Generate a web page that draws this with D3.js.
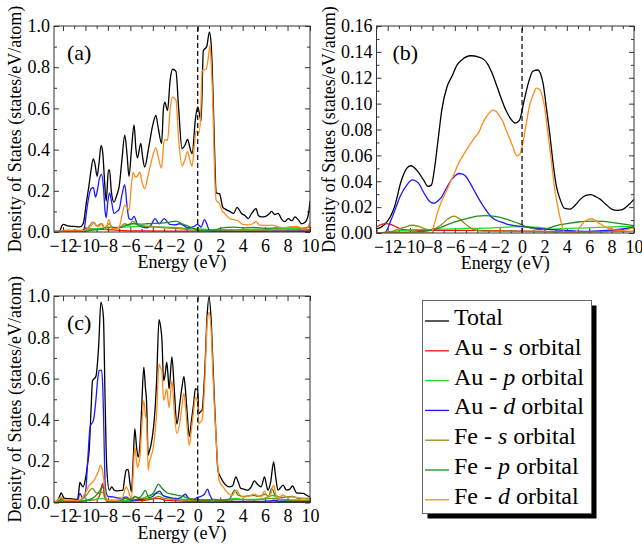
<!DOCTYPE html>
<html><head><meta charset="utf-8">
<script src="https://cdn.jsdelivr.net/npm/d3@7"></script>
<style>
html,body{margin:0;padding:0;background:#fff;}
svg{display:block;font-family:"Liberation Serif","Times New Roman",serif;}
</style></head>
<body>
<svg id="c" width="642" height="547"></svg>
<script>
// ---------------- DATA ----------------
const seriesNames = ["Total","Au - s orbital","Au - p orbital","Au - d orbital","Fe - s orbital","Fe - p orbital","Fe - d orbital"];
const seriesColors = ["#000000","#ee1111","#22dd22","#1a1aff","#8c8c1a","#1e8c1e","#ff8c1a"];
const xTicks = [-12,-10,-8,-6,-4,-2,0,2,4,6,8,10];

// Panel (a)
const a_total = [[-12.8,0.003],[-12.3,0.004],[-12.1,0.03],[-11.95,0.037],[-11.6,0.03],[-11,0.027],[-10.5,0.025],[-10.2,0.04],[-9.9,0.15],[-9.7,0.22],[-9.5,0.3],[-9.3,0.355],[-9.15,0.33],[-8.96,0.27],[-8.8,0.33],[-8.6,0.42],[-8.45,0.38],[-8.3,0.25],[-8.15,0.15],[-7.95,0.3],[-7.85,0.3],[-7.7,0.2],[-7.46,0.145],[-7.2,0.18],[-7.0,0.22],[-6.75,0.35],[-6.5,0.47],[-6.3,0.38],[-6.12,0.27],[-5.9,0.4],[-5.67,0.52],[-5.5,0.4],[-5.37,0.36],[-5.07,0.43],[-4.9,0.36],[-4.72,0.315],[-4.4,0.4],[-4.0,0.52],[-3.73,0.566],[-3.5,0.5],[-3.22,0.43],[-3.05,0.6],[-2.93,0.63],[-2.69,0.59],[-2.45,0.74],[-2.24,0.79],[-1.94,0.78],[-1.7,0.6],[-1.4,0.405],[-1.15,0.42],[-0.9,0.45],[-0.7,0.41],[-0.5,0.38],[-0.2,0.55],[0,0.607],[0.3,0.54],[0.5,0.88],[0.8,0.9],[1.04,0.97],[1.2,0.91],[1.4,0.6],[1.55,0.3],[1.64,0.19],[1.94,0.186],[2.24,0.12],[2.5,0.11],[2.84,0.10],[3.2,0.09],[3.5,0.12],[3.9,0.09],[4.2,0.08],[4.5,0.065],[4.8,0.09],[5.2,0.113],[5.4,0.08],[5.67,0.073],[6.0,0.075],[6.4,0.09],[6.57,0.10],[6.85,0.085],[7.16,0.09],[7.5,0.06],[7.76,0.05],[8.06,0.065],[8.4,0.055],[8.66,0.073],[8.95,0.06],[9.25,0.04],[9.5,0.045],[9.7,0.057],[9.9,0.1],[10,0.15]];
const a_aus = [[-12.8,0],[-12.2,0.003],[-11.8,0.008],[-10.3,0.008],[-10,0.015],[-9,0.015],[-8,0.012],[-7,0.008],[-5,0.005],[-2,0.004],[0,0.004],[3,0.004],[6,0.004],[10,0.005]];
const a_aup = [[-12.8,0],[-10.3,0.002],[-9.8,0.012],[-9,0.016],[-8,0.02],[-7,0.022],[-6,0.025],[-5,0.027],[-4,0.025],[-3,0.024],[-2,0.022],[-1,0.018],[0,0.016],[1,0.012],[2,0.011],[3,0.01],[4,0.012],[5,0.014],[6,0.013],[7,0.015],[8,0.016],[9,0.018],[10,0.022]];
const a_aud = [[-12.8,0],[-10.3,0.002],[-10.1,0.02],[-9.9,0.1],[-9.7,0.17],[-9.5,0.21],[-9.3,0.215],[-9.1,0.17],[-8.95,0.2],[-8.75,0.26],[-8.57,0.28],[-8.4,0.22],[-8.25,0.1],[-8.15,0.07],[-8.0,0.15],[-7.85,0.19],[-7.65,0.14],[-7.46,0.09],[-7.2,0.1],[-7.0,0.11],[-6.75,0.18],[-6.5,0.23],[-6.3,0.13],[-6.12,0.065],[-5.9,0.06],[-5.67,0.076],[-5.4,0.04],[-5.2,0.03],[-4.6,0.02],[-4.2,0.03],[-3.8,0.065],[-3.43,0.04],[-2.98,0.065],[-2.5,0.037],[-2.0,0.035],[-1.64,0.04],[-1.2,0.03],[-0.9,0.02],[-0.4,0.025],[0,0.037],[0.3,0.024],[0.6,0.06],[0.8,0.04],[1.04,0.008],[1.5,0.004],[3,0.004],[5,0.003],[7,0.005],[9,0.004],[10,0.003]];
const a_fes = [[-12.8,0],[-10.3,0.002],[-9.8,0.02],[-9.3,0.048],[-9.0,0.03],[-8.6,0.04],[-8.3,0.02],[-7.9,0.04],[-7.5,0.02],[-6.9,0.025],[-6.5,0.04],[-6.1,0.03],[-5.8,0.053],[-5.4,0.035],[-4.8,0.03],[-4,0.025],[-3,0.02],[-2,0.018],[-1,0.012],[0,0.008],[1,0.006],[2,0.01],[4,0.008],[6,0.009],[8,0.01],[10,0.012]];
const a_fep = [[-12.8,0],[-10.3,0.002],[-9.5,0.008],[-8.5,0.015],[-7.9,0.024],[-7,0.02],[-6.5,0.03],[-5.8,0.04],[-5,0.038],[-4.5,0.04],[-3.8,0.042],[-3,0.044],[-2.5,0.048],[-1.94,0.053],[-1.4,0.04],[-0.9,0.03],[-0.3,0.015],[0,0.01],[0.6,0.008],[1.0,0.006],[1.6,0.01],[2.2,0.02],[3.1,0.024],[4,0.02],[5,0.022],[6,0.018],[7,0.02],[8,0.022],[8.8,0.025],[9.4,0.015],[10,0.03]];
const a_fed = [[-12.8,0.0],[-12.0,0.005],[-10.5,0.005],[-10.0,0.01],[-9.5,0.03],[-9.2,0.044],[-8.9,0.025],[-8.5,0.04],[-8.2,0.01],[-7.9,0.06],[-7.7,0.02],[-7.4,0.015],[-7.0,0.024],[-6.75,0.08],[-6.5,0.13],[-6.3,0.12],[-6.12,0.105],[-5.95,0.2],[-5.76,0.29],[-5.6,0.27],[-5.46,0.267],[-5.16,0.29],[-4.95,0.24],[-4.72,0.21],[-4.4,0.28],[-4.0,0.37],[-3.73,0.41],[-3.5,0.36],[-3.22,0.31],[-3.05,0.42],[-2.93,0.45],[-2.69,0.445],[-2.45,0.6],[-2.24,0.655],[-1.94,0.64],[-1.7,0.45],[-1.4,0.32],[-1.15,0.35],[-0.9,0.39],[-0.7,0.35],[-0.5,0.32],[-0.3,0.42],[-0.15,0.49],[0.1,0.48],[0.25,0.55],[0.4,0.785],[0.75,0.79],[0.95,0.85],[1.1,0.906],[1.22,0.8],[1.34,0.64],[1.5,0.3],[1.64,0.154],[1.94,0.137],[2.2,0.1],[2.4,0.09],[2.84,0.065],[3.2,0.06],[3.5,0.057],[3.8,0.045],[4.0,0.037],[4.5,0.035],[4.9,0.04],[5.2,0.05],[5.5,0.035],[6.1,0.032],[6.6,0.033],[7.2,0.024],[7.7,0.02],[8.2,0.024],[8.8,0.027],[9.3,0.015],[9.7,0.016],[9.9,0.035],[10,0.05]];

// Panel (b)
const b_total = [[-13,0.003],[-12.3,0.0064],[-11.8,0.012],[-11.4,0.02],[-10.8,0.04],[-10.3,0.05],[-9.94,0.052],[-9.3,0.0475],[-8.8,0.041],[-8.4,0.036],[-8.1,0.037],[-7.8,0.051],[-7.5,0.072],[-7.17,0.095],[-6.7,0.113],[-6.27,0.121],[-5.8,0.13],[-5.36,0.134],[-4.6,0.137],[-3.86,0.136],[-3.4,0.134],[-3.1,0.131],[-2.7,0.124],[-2.35,0.116],[-1.9,0.105],[-1.45,0.095],[-1.0,0.088],[-0.6,0.085],[-0.24,0.087],[0.2,0.103],[0.6,0.117],[0.96,0.125],[1.4,0.126],[1.87,0.116],[2.2,0.095],[2.47,0.077],[2.8,0.052],[3.07,0.036],[3.4,0.026],[3.8,0.019],[4.3,0.0185],[4.8,0.022],[5.2,0.026],[5.7,0.029],[6.14,0.0296],[6.6,0.028],[7.0,0.026],[7.5,0.022],[8.0,0.0185],[8.5,0.0175],[8.95,0.018],[9.55,0.022],[10,0.026]];
const b_aus = [[-13,0.0046],[-12.6,0.0065],[-12.2,0.0072],[-11.7,0.0064],[-11.2,0.0045],[-10.8,0.003],[-9.8,0.0022],[-8,0.002],[-5,0.002],[-2,0.0018],[0,0.0015],[2,0.0012],[5,0.001],[7,0.0012],[8.5,0.002],[9.3,0.0033],[10,0.0044]];
const b_aup = [[-13,0],[-12,0.0005],[-10.8,0.0018],[-9.3,0.0026],[-7,0.003],[-5,0.0035],[-3.25,0.0038],[-1.5,0.0045],[0,0.005],[1.5,0.0044],[2.8,0.003],[4,0.0035],[5.8,0.004],[7.5,0.0045],[8.8,0.0049],[10,0.005]];
const b_aud = [[-13,0],[-12.3,0],[-11.7,0.010],[-11.3,0.019],[-10.9,0.028],[-10.3,0.037],[-9.8,0.041],[-9.3,0.039],[-8.7,0.03],[-8.2,0.024],[-7.9,0.023],[-7.5,0.025],[-7.17,0.028],[-6.8,0.034],[-6.4,0.040],[-6.0,0.044],[-5.66,0.046],[-5.3,0.0455],[-5.06,0.044],[-4.6,0.038],[-4.16,0.031],[-3.7,0.024],[-3.25,0.018],[-2.8,0.013],[-2.35,0.010],[-1.7,0.008],[-1.15,0.0064],[0.06,0.005],[1.57,0.0033],[2.77,0.0026],[4.3,0.0018],[5.8,0.0013],[7.3,0.0018],[8.8,0.003],[10,0.0046]];
const b_fes = [[-13,0],[-11.5,0.0015],[-10.5,0.0045],[-9.8,0.006],[-9.2,0.005],[-8.4,0.0026],[-8.0,0.0028],[-7.2,0.0065],[-6.6,0.011],[-6.1,0.013],[-5.6,0.011],[-5.0,0.0065],[-4.4,0.003],[-3.5,0.0015],[-2,0.0015],[0,0.0012],[2,0.001],[4,0.0008],[6,0.0008],[8,0.001],[10,0.0015]];
const b_fep = [[-13,0],[-11,0.0005],[-9,0.0012],[-8.1,0.002],[-7.2,0.0045],[-6.3,0.0077],[-5.5,0.0098],[-4.76,0.0115],[-4,0.013],[-3.25,0.0134],[-2.6,0.013],[-2.05,0.0123],[-1.4,0.0107],[-0.84,0.009],[-0.2,0.007],[0.36,0.005],[1.0,0.0035],[1.57,0.0026],[2.2,0.0032],[2.77,0.005],[3.5,0.0065],[4.3,0.0077],[5.0,0.0085],[5.8,0.009],[6.5,0.0092],[7.3,0.009],[8.0,0.0082],[8.8,0.0072],[9.4,0.0065],[10,0.0057]];
const b_fed = [[-13,0],[-8.1,0],[-7.8,0.008],[-7.47,0.018],[-7.0,0.028],[-6.57,0.036],[-6.1,0.045],[-5.66,0.054],[-5.2,0.061],[-4.76,0.067],[-4.3,0.073],[-3.86,0.078],[-3.5,0.085],[-3.25,0.089],[-2.9,0.093],[-2.65,0.095],[-2.3,0.094],[-2.05,0.091],[-1.7,0.086],[-1.45,0.08],[-1.1,0.073],[-0.84,0.067],[-0.45,0.0596],[-0.2,0.061],[0.06,0.069],[0.35,0.083],[0.66,0.098],[1.0,0.107],[1.27,0.112],[1.57,0.111],[1.8,0.106],[2.0,0.098],[2.3,0.078],[2.6,0.057],[2.9,0.035],[3.2,0.02],[3.5,0.008],[3.8,0],[4.7,0],[5.0,0.0026],[5.3,0.006],[5.6,0.009],[6.2,0.011],[6.8,0.008],[7.6,0.004],[8.8,0.002],[9.5,0.003],[10,0.004]];

// Panel (c)
const c_total = [[-12.8,0],[-12.5,0.008],[-12.3,0.03],[-12.16,0.047],[-11.95,0.025],[-11.8,0.02],[-11.2,0.018],[-10.7,0.015],[-10.6,0.05],[-10.5,0.097],[-10.35,0.085],[-10.2,0.076],[-9.97,0.124],[-9.8,0.19],[-9.67,0.25],[-9.5,0.45],[-9.37,0.59],[-9.07,0.61],[-8.83,0.75],[-8.62,0.97],[-8.4,0.9],[-8.25,0.5],[-8.1,0.165],[-7.87,0.06],[-7.66,0.076],[-7.45,0.06],[-7.27,0.056],[-6.9,0.058],[-6.67,0.06],[-6.5,0.12],[-6.37,0.156],[-6.2,0.16],[-6.05,0.1],[-5.9,0.052],[-5.75,0.2],[-5.6,0.358],[-5.45,0.27],[-5.3,0.22],[-5.16,0.27],[-5.0,0.45],[-4.8,0.656],[-4.65,0.55],[-4.56,0.495],[-4.41,0.23],[-4.3,0.25],[-4.17,0.277],[-3.93,0.366],[-3.8,0.45],[-3.66,0.59],[-3.45,0.885],[-3.3,0.85],[-3.2,0.8],[-3.03,0.59],[-2.9,0.62],[-2.76,0.68],[-2.65,0.62],[-2.55,0.55],[-2.3,0.705],[-2.1,0.56],[-1.86,0.38],[-1.56,0.495],[-1.4,0.56],[-1.23,0.61],[-1.1,0.55],[-0.96,0.45],[-0.75,0.32],[-0.55,0.4],[-0.36,0.48],[-0.21,0.55],[0,0.545],[0.09,0.43],[0.25,0.44],[0.39,0.447],[0.63,0.64],[0.84,0.906],[1.0,0.995],[1.2,0.88],[1.35,0.68],[1.5,0.48],[1.65,0.3],[1.8,0.156],[2.1,0.116],[2.4,0.09],[2.8,0.076],[3.1,0.08],[3.4,0.124],[3.6,0.1],[3.84,0.068],[4.1,0.065],[4.44,0.06],[4.75,0.075],[5.05,0.105],[5.3,0.09],[5.65,0.076],[5.95,0.124],[6.1,0.09],[6.25,0.06],[6.5,0.1],[6.76,0.197],[6.95,0.12],[7.15,0.06],[7.35,0.07],[7.6,0.084],[7.9,0.06],[8.2,0.065],[8.44,0.08],[8.8,0.047],[9.1,0.045],[9.4,0.044],[9.7,0.035],[10,0.027]];
const c_aus = [[-12.8,0],[-12.3,0.01],[-12.16,0.016],[-11.8,0.006],[-10.5,0.005],[-9.5,0.012],[-9.0,0.015],[-8.7,0.04],[-8.47,0.092],[-8.3,0.04],[-8.1,0.005],[-7,0.004],[-5.6,0.008],[-4.8,0.01],[-3.5,0.02],[-3,0.012],[-1,0.006],[0,0.004],[2,0.003],[5,0.003],[8,0.004],[10,0.004]];
const c_aup = [[-12.8,0],[-12.16,0.008],[-11,0.004],[-10,0.01],[-9,0.015],[-8.47,0.02],[-8,0.01],[-7,0.008],[-6,0.012],[-5,0.018],[-4.7,0.025],[-3.5,0.045],[-3,0.03],[-2,0.02],[-1,0.015],[0,0.012],[1,0.01],[2,0.01],[3.4,0.02],[4,0.015],[5,0.015],[6,0.02],[6.7,0.035],[7.2,0.015],[8,0.012],[10,0.01]];
const c_aud = [[-12.8,0],[-12.2,0.005],[-11,0.004],[-10.7,0.005],[-10.5,0.044],[-10.3,0.025],[-10.2,0.02],[-9.97,0.06],[-9.8,0.2],[-9.58,0.366],[-9.28,0.4],[-9.07,0.495],[-8.9,0.6],[-8.77,0.64],[-8.56,0.64],[-8.45,0.55],[-8.38,0.4],[-8.23,0.076],[-8.0,0.03],[-7.57,0.027],[-6.8,0.02],[-6.37,0.027],[-5.9,0.011],[-5.0,0.015],[-4.5,0.02],[-4.0,0.03],[-3.6,0.05],[-3.4,0.055],[-3.1,0.035],[-2.5,0.024],[-1.8,0.018],[-1.5,0.025],[-1.1,0.04],[-0.8,0.02],[-0.4,0.015],[0,0.025],[0.3,0.03],[0.6,0.04],[0.88,0.065],[1.05,0.04],[1.3,0.015],[1.6,0.006],[3,0.005],[5,0.005],[6.5,0.008],[6.76,0.011],[7.2,0.006],[8,0.008],[10,0.005]];
const c_fes = [[-12.8,0],[-12.16,0.02],[-11.8,0.008],[-10.5,0.01],[-10,0.03],[-9.37,0.068],[-9.1,0.05],[-8.8,0.044],[-8.47,0.05],[-8.25,0.02],[-8.0,0.008],[-7,0.01],[-6.4,0.02],[-5.8,0.015],[-5.6,0.027],[-5,0.02],[-4,0.02],[-3.5,0.03],[-3,0.02],[-2,0.015],[-1,0.012],[0,0.01],[1,0.01],[2,0.008],[3.4,0.015],[5,0.012],[6.7,0.02],[8,0.012],[10,0.01]];
const c_fep = [[-12.8,0],[-12.16,0.005],[-11,0.003],[-10.5,0.005],[-9.8,0.012],[-9.2,0.027],[-8.8,0.05],[-8.47,0.076],[-8.25,0.03],[-8.0,0.01],[-7,0.01],[-6.4,0.02],[-6.0,0.012],[-5.6,0.03],[-5.3,0.02],[-4.9,0.04],[-4.68,0.06],[-4.4,0.03],[-3.9,0.05],[-3.5,0.089],[-3.2,0.07],[-2.8,0.05],[-2.3,0.04],[-1.8,0.035],[-1.3,0.03],[-0.8,0.02],[-0.3,0.015],[0.3,0.012],[1,0.012],[1.5,0.015],[2,0.012],[2.8,0.015],[3.3,0.06],[3.6,0.035],[4,0.03],[5,0.035],[5.4,0.03],[6,0.04],[6.3,0.03],[6.6,0.07],[6.9,0.035],[7.5,0.025],[8.4,0.03],[9,0.02],[10,0.02]];
const c_fed = [[-12.8,0],[-12.5,0.01],[-12.16,0.027],[-11.9,0.012],[-11,0.01],[-10.5,0.012],[-10.2,0.03],[-9.97,0.05],[-9.7,0.08],[-9.5,0.092],[-9.2,0.11],[-9.07,0.124],[-8.85,0.15],[-8.68,0.18],[-8.5,0.16],[-8.4,0.124],[-8.25,0.05],[-8.1,0.011],[-7.5,0.01],[-7,0.012],[-6.67,0.027],[-6.5,0.06],[-6.37,0.076],[-6.2,0.06],[-6.07,0.035],[-5.9,0.02],[-5.75,0.14],[-5.6,0.27],[-5.45,0.2],[-5.37,0.17],[-5.16,0.22],[-5.0,0.35],[-4.8,0.495],[-4.65,0.42],[-4.56,0.4],[-4.41,0.156],[-4.3,0.2],[-4.17,0.22],[-3.93,0.277],[-3.8,0.34],[-3.66,0.43],[-3.45,0.67],[-3.3,0.65],[-3.2,0.64],[-3.03,0.495],[-2.9,0.52],[-2.76,0.55],[-2.65,0.5],[-2.55,0.46],[-2.3,0.59],[-2.1,0.45],[-1.86,0.334],[-1.56,0.4],[-1.4,0.47],[-1.23,0.53],[-1.1,0.47],[-0.96,0.38],[-0.75,0.277],[-0.55,0.36],[-0.36,0.447],[-0.21,0.51],[0,0.48],[0.09,0.38],[0.25,0.39],[0.39,0.40],[0.63,0.59],[0.84,0.866],[1.0,0.92],[1.2,0.83],[1.35,0.63],[1.5,0.447],[1.7,0.25],[1.9,0.108],[2.1,0.085],[2.35,0.068],[2.7,0.045],[3.1,0.035],[3.3,0.05],[3.45,0.06],[3.7,0.04],[4.0,0.027],[4.5,0.03],[5.05,0.04],[5.35,0.032],[5.65,0.027],[5.95,0.055],[6.2,0.03],[6.5,0.04],[6.76,0.084],[6.95,0.04],[7.15,0.024],[7.6,0.035],[8.0,0.025],[8.44,0.027],[9.0,0.022],[9.4,0.02],[10,0.015]];

// ---------------- LAYOUT ----------------
const panels = [
  {id:"a", label:"(a)", box:[54,26,310,232], xdom:[-12.8,10], ydom:[0,1], yMajor:0.2, yMinor:0.1, fmt:".1f",
   series:[a_total,a_aus,a_aup,a_aud,a_fes,a_fep,a_fed], curve:d3.curveMonotoneX, titleX:21},
  {id:"b", label:"(b)", box:[376.5,26,634,233], xdom:[-13,10], ydom:[0,0.16], yMajor:0.02, yMinor:0.01, fmt:".2f",
   series:[b_total,b_aus,b_aup,b_aud,b_fes,b_fep,b_fed], curve:d3.curveMonotoneX, titleX:335},
  {id:"c", label:"(c)", box:[54,296,310,502.5], xdom:[-12.8,10], ydom:[0,1], yMajor:0.2, yMinor:0.1, fmt:".1f",
   series:[c_total,c_aus,c_aup,c_aud,c_fes,c_fep,c_fed], curve:d3.curveMonotoneX, titleX:21}
];

const svg = d3.select("#c");
const FS = 18;

panels.forEach(p => {
  const [x0,y0,x1,y1] = p.box;
  const x = d3.scaleLinear().domain(p.xdom).range([x0,x1]);
  const y = d3.scaleLinear().domain(p.ydom).range([y1,y0]);
  const g = svg.append("g");

  g.append("clipPath").attr("id","clip"+p.id).append("rect")
    .attr("x",x0).attr("y",y0).attr("width",x1-x0).attr("height",y1-y0);

  const xMaj = xTicks;
  const xMin = d3.range(Math.ceil(p.xdom[0]), p.xdom[1]+0.001, 1).filter(v=>!xMaj.includes(v));
  const nY = Math.round((p.ydom[1]-p.ydom[0])/p.yMajor);
  const yMaj = d3.range(0,nY+1).map(i=>+(p.ydom[0]+i*p.yMajor).toFixed(4));
  const nYm = Math.round((p.ydom[1]-p.ydom[0])/p.yMinor);
  const yMin = d3.range(0,nYm+1).map(i=>+(p.ydom[0]+i*p.yMinor).toFixed(4)).filter(v=>!yMaj.some(m=>Math.abs(m-v)<1e-9));

  function ax(gen, tr, vals, size, labels, pad){
    const a = gen.tickValues(vals).tickSize(-size).tickSizeOuter(0).tickPadding(pad);
    if(!labels) a.tickFormat("");
    const sel = g.append("g").attr("transform",tr).call(a);
    sel.select(".domain").remove();
    sel.selectAll("line").attr("stroke","#333").attr("stroke-width",1);
    sel.selectAll("text").attr("font-family","Liberation Serif, serif").attr("font-size",FS).attr("fill","#000");
    return sel;
  }
  // bottom
  ax(d3.axisBottom(x), `translate(0,${y1})`, xMaj, 5, true, 7);
  ax(d3.axisBottom(x), `translate(0,${y1})`, xMin, 3, false, 0);
  // top
  ax(d3.axisTop(x), `translate(0,${y0})`, xMaj, 5, false, 0);
  ax(d3.axisTop(x), `translate(0,${y0})`, xMin, 3, false, 0);
  // left
  ax(d3.axisLeft(y).tickFormat(d3.format(p.fmt)), `translate(${x0},0)`, yMaj, 5, true, 4);
  ax(d3.axisLeft(y), `translate(${x0},0)`, yMin, 3, false, 0);
  // right
  ax(d3.axisRight(y), `translate(${x1},0)`, yMaj, 5, false, 0);
  ax(d3.axisRight(y), `translate(${x1},0)`, yMin, 3, false, 0);

  const line = d3.line().x(d=>x(d[0])).y(d=>y(d[1])).curve(p.curve);
  const lg = g.append("g").attr("clip-path",`url(#clip${p.id})`);
  p.series.forEach((s,i)=>{
    lg.append("path").attr("d",line(s)).attr("fill","none")
      .attr("stroke",seriesColors[i]).attr("stroke-width",1.3).attr("stroke-linejoin","round");
  });

  // Fermi level
  g.append("line").attr("x1",x(0)).attr("x2",x(0)).attr("y1",y1).attr("y2",y0)
    .attr("stroke","#000").attr("stroke-width",1.2).attr("stroke-dasharray","5,3");

  // frame
  g.append("rect").attr("x",x0).attr("y",y0).attr("width",x1-x0).attr("height",y1-y0)
    .attr("fill","none").attr("stroke","#333").attr("stroke-width",1);

  // panel label
  g.append("text").attr("x",x0+(p.id==="b"?16:13)).attr("y",y0+34).attr("font-size",22).text(p.label);

  // axis titles
  g.append("text").attr("x",(x0+x1)/2).attr("y",y1+36).attr("text-anchor","middle")
    .attr("font-size",FS).text("Energy (eV)");
  g.append("text").attr("transform",`translate(${p.titleX},${(y0+y1)/2}) rotate(-90)`)
    .attr("text-anchor","middle").attr("font-size",FS).text("Density of States (states/eV/atom)");
});

// ---------------- LEGEND ----------------
const L = {x:422.5, y:300.5, w:169, h:213};
const leg = svg.append("g");
leg.append("rect").attr("x",L.x+5).attr("y",L.y+5).attr("width",L.w).attr("height",L.h).attr("fill","#000");
leg.append("rect").attr("x",L.x).attr("y",L.y).attr("width",L.w).attr("height",L.h).attr("fill","#fff").attr("stroke","#666").attr("stroke-width",1);
seriesNames.forEach((name,i)=>{
  const by = 325 + i*29.8;
  leg.append("line").attr("x1",425).attr("x2",449).attr("y1",by-4).attr("y2",by-4)
    .attr("stroke",seriesColors[i]).attr("stroke-width",1.3);
  const t = leg.append("text").attr("x",454).attr("y",by).attr("font-size",24);
  const m = name.match(/^(\w+) - (\w) (orbital)$/);
  if(m){
    t.append("tspan").text(m[1]+" - ");
    t.append("tspan").attr("font-style","italic").text(m[2]);
    t.append("tspan").text(" "+m[3]);
  } else t.text(name);
});
</script>
</body></html>
